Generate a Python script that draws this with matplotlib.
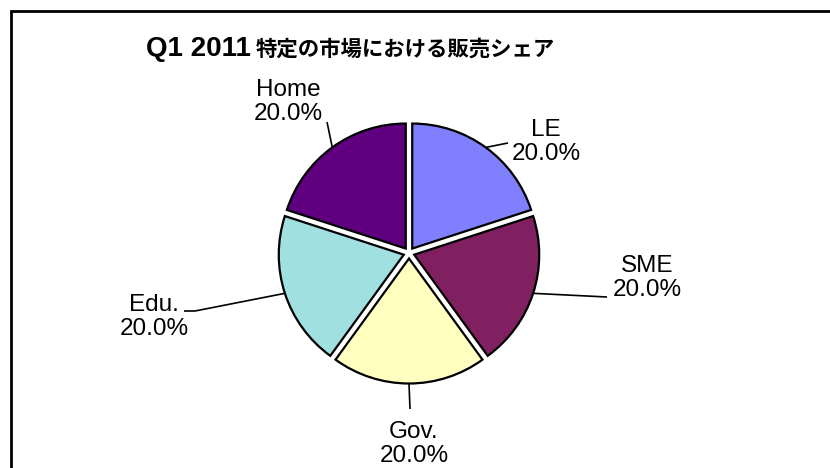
import numpy as np
import matplotlib
matplotlib.use("Agg")
import matplotlib.pyplot as plt
from matplotlib.patches import Rectangle

W, H = 830, 468

TITLE = "Q1 2011 特定の市場における販売シェア"
CATEGORIES = ["LE", "SME", "Gov.", "Edu.", "Home"]
SHARES = [20.0, 20.0, 20.0, 20.0, 20.0]
COLOURS = ["#8080FF", "#802060", "#FFFFC0", "#A0E0E0", "#600080"]

# label placement in image pixels (x, y from top-left)
LABEL_POS = [(546, 142), (647, 278), (414, 444), (154, 317), (288, 102)]
LEADER_PATH = [
    [(508, 143)],
    [(607, 297)],
    [(410, 409)],
    [(195, 311), (184, 311)],
    [(327, 122)],
]

CENTRE = (409, 253)
RADIUS = 125
EXPLODE_PX = 5.5


def up(x, y):
    # image pixel -> data coords (y up)
    return x, H - y


fig = plt.figure(figsize=(W / 100, H / 100), dpi=100)
ax = fig.add_axes([0, 0, 1, 1])

wedges, _ = ax.pie(
    SHARES,
    colors=COLOURS,
    startangle=90,
    counterclock=False,
    explode=[EXPLODE_PX] * len(SHARES),
    radius=RADIUS,
    center=up(*CENTRE),
    wedgeprops=dict(edgecolor="black", linewidth=1.6),
    frame=True,
)
ax.set_xlim(0, W)
ax.set_ylim(0, H)
ax.set_aspect("equal")
ax.axis("off")

total = sum(SHARES)
for w, name, val, pos, path in zip(wedges, CATEGORIES, SHARES, LABEL_POS, LEADER_PATH):
    theta = np.deg2rad((w.theta1 + w.theta2) / 2)
    cx, cy = w.center
    start = (cx + w.r * np.cos(theta), cy + w.r * np.sin(theta))
    pts = [start] + [up(*p) for p in path]
    xs, ys = zip(*pts)
    ax.plot(xs, ys, color="black", linewidth=1.2, solid_capstyle="butt")
    ax.text(*up(*pos), f"{name}\n{val / total * 100:.1f}%",
            ha="center", va="center", fontsize=17.5, linespacing=1.12,
            family="Liberation Sans", color="black")

# title: latin part and japanese part
words = TITLE.split(" ")
head, tail = " ".join(words[:2]), " ".join(words[2:])
ax.text(*up(146, 56), head, ha="left", va="baseline", fontsize=20,
        fontweight="bold", family="Liberation Sans")
ax.text(*up(256, 56), tail, ha="left", va="baseline", fontsize=15.4,
        fontweight="bold", family=["Noto Sans CJK JP", "DejaVu Sans"])

# chart frame (right and bottom edges run off the image)
ax.add_patch(Rectangle(up(11, 900), 1200, 900 - 11, fill=False,
                       edgecolor="black", linewidth=2, clip_on=False))

fig.savefig("out.png", dpi=100)
